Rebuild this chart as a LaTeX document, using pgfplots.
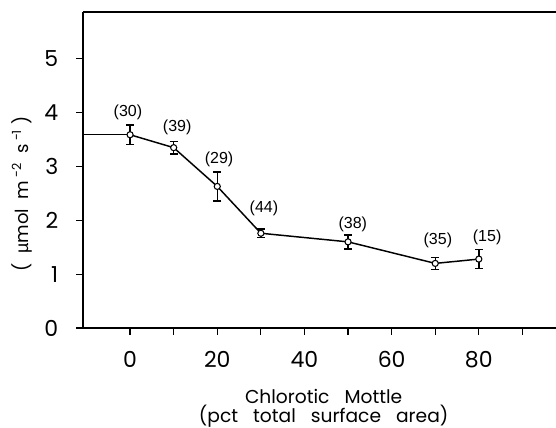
\documentclass[border=0pt]{standalone}
\usepackage{pgfplots}
\pgfplotsset{compat=1.18}
\usepackage{fontspec}
\setmainfont{Poppins}
\newfontfamily\lab{Liberation Sans}
\begin{document}
\begin{tikzpicture}
\begin{axis}[
  scale only axis, width=354.75pt, height=237pt,
  xmin=-10.8, xmax=97.7, ymin=0, ymax=5.87,
  axis x line*=box, axis y line*=left,
  xtick={0,10,...,90}, xticklabels={0,,20,,40,,60,,80,},
  ytick={0,1,2,3,4,5},
  xtick pos=left, ytick pos=left,
  tick align=outside,
  major tick length=5pt,
  tick style={line width=0.9pt, black},
  axis line style={line width=1.2pt},
  ticklabel style={font=\fontsize{16.5}{18}\selectfont},
  /pgf/number format/assume math mode=true,
  xticklabel style={yshift=-9pt},
  yticklabel style={xshift=-10pt},
  clip=true,
]
\coordinate (SW) at (rel axis cs:0,0);
\coordinate (NE) at (rel axis cs:1,1);
\addplot[black, line width=1.1pt, mark=none] coordinates {(-15,3.59) (0,3.59)};
\addplot[black, line width=1.1pt, mark=*,
  mark options={fill=white, draw=black, line width=0.8pt, mark size=2.3pt},
  error bars/.cd, y dir=both, y explicit,
  error bar style={line width=1pt},
  error mark options={rotate=90, mark size=3pt, line width=1pt}]
coordinates {
  (0,3.59) +- (0,0.18)
  (10,3.35) +- (0,0.12)
  (20,2.63) +- (0,0.27)
  (30,1.76) +- (0,0.08)
  (50,1.60) +- (0,0.13)
  (70,1.20) +- (0,0.11)
  (80,1.28) +- (0,0.18)
};
\begin{scope}[every node/.style={font=\lab\fontsize{12}{14}\selectfont}]
\node at (axis cs:-0.5,4.00) {(30)};
\node at (axis cs:10.8,3.72) {(39)};
\node at (axis cs:20.4,3.13) {(29)};
\node at (axis cs:30.7,2.23) {(44)};
\node at (axis cs:51.1,1.92) {(38)};
\node at (axis cs:70.6,1.63) {(35)};
\node at (axis cs:81.9,1.69) {(15)};
\end{scope}
\end{axis}
\node[font=\fontsize{14}{10.5}\selectfont, align=center] at ([shift={(180.5pt,-60.4pt)}]SW) {Chlorotic\ \ \ Mottle\\(pct\ \ \ total\ \ \ surface\ \ \ area)};
\node[font=\fontsize{13.5}{14}\selectfont, rotate=90] at ([shift={(-46pt,100.5pt)}]SW) {(\ \ {\lab µ}mol\ \ m\,\textsuperscript{-2}\ \ s\,\textsuperscript{-1}\ )};
\pgfresetboundingbox
\useasboundingbox ([shift={(-62.25pt,-75pt)}]SW) rectangle ([shift={(0pt,9pt)}]NE);
\end{tikzpicture}
\end{document}
